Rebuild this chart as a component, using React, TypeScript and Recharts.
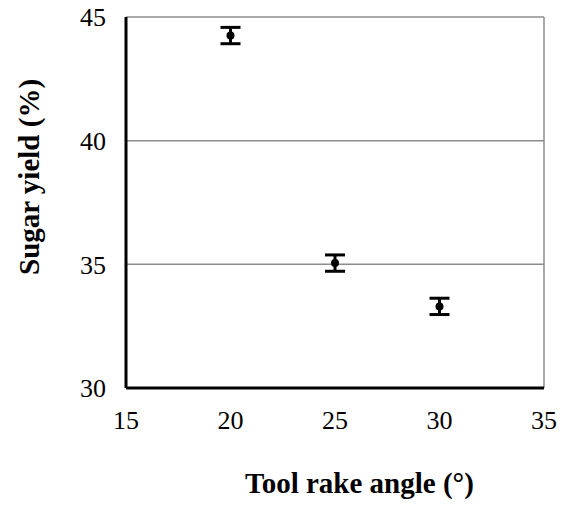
import React from 'react';
import { ScatterChart, Scatter, XAxis, YAxis, CartesianGrid, ErrorBar, ReferenceLine, Label } from 'recharts';

const angles = [20, 25, 30];
const yields = [44.25, 35.05, 33.3];
const errors = [0.33, 0.33, 0.33];
const xTicks = [15, 20, 25, 30, 35];
const yTicks = [30, 35, 40, 45];

const data = angles.map((a, i) => ({ x: a, y: yields[i], err: errors[i] }));

const FONT = '"Liberation Serif", "Times New Roman", serif';
const TICK_SIZE = 26;
const TITLE_SIZE = 29;

const Dot = (props: any) => {
  const { cx, cy } = props;
  return <circle cx={cx} cy={cy} r={4} fill="#000" />;
};

const YTitle = (props: any) => {
  const x = 39;
  const y = 275;
  return (
    <text
      x={x}
      y={y}
      transform={`rotate(-90 ${x} ${y})`}
      textAnchor="start"
      fontFamily={FONT}
      fontWeight="bold"
      fontSize={TITLE_SIZE}
      fill="#000"
    >
      Sugar yield (%)
    </text>
  );
};

const XTitle = (props: any) => {
  return (
    <text
      x={245}
      y={493}
      textAnchor="start"
      fontFamily={FONT}
      fontWeight="bold"
      fontSize={TITLE_SIZE}
      fill="#000"
    >
      Tool rake angle (°)
    </text>
  );
};

export default function App() {
  return (
    <div style={{ position: 'absolute', left: 0, top: 0, width: 561, height: 508, background: '#fff' }}>
      <ScatterChart width={561} height={508} margin={{ top: 17, right: 17, bottom: 0, left: 0 }}>
        <CartesianGrid vertical={false} stroke="#8c8c8c" strokeWidth={1.5} />
        <ReferenceLine x={35} stroke="#8c8c8c" strokeWidth={1.5} />
        <XAxis
          type="number"
          dataKey="x"
          domain={[15, 35]}
          ticks={xTicks}
          height={120}
          tickLine={false}
          tickSize={6}
          tickMargin={17}
          axisLine={{ stroke: '#000', strokeWidth: 3 }}
          tick={{ fontFamily: FONT, fontSize: TICK_SIZE, fill: '#000' }}
        >
          <Label content={<XTitle />} />
        </XAxis>
        <YAxis
          type="number"
          dataKey="y"
          domain={[30, 45]}
          ticks={yTicks}
          width={126}
          tickLine={false}
          tickSize={6}
          tickMargin={14}
          axisLine={{ stroke: '#000', strokeWidth: 3 }}
          tick={{ fontFamily: FONT, fontSize: TICK_SIZE, fill: '#000' }}
        >
          <Label content={<YTitle />} />
        </YAxis>
        <Scatter data={data} shape={<Dot />} isAnimationActive={false}>
          <ErrorBar dataKey="err" direction="y" width={10} stroke="#000" strokeWidth={3} />
        </Scatter>
      </ScatterChart>
    </div>
  );
}
